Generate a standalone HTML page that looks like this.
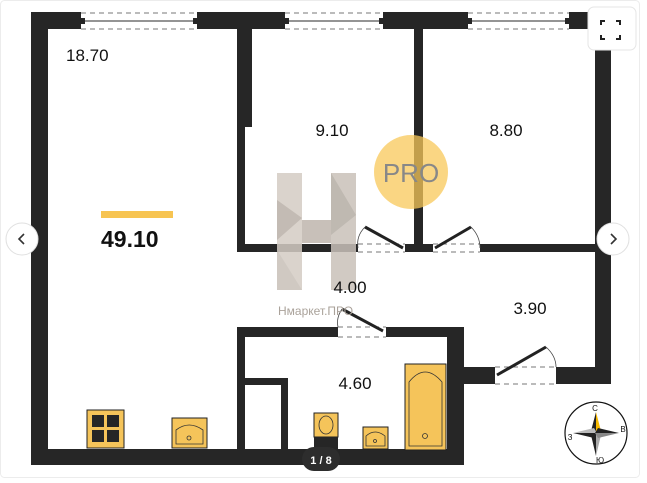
<!DOCTYPE html>
<html><head><meta charset="utf-8"><style>
html,body{margin:0;padding:0;background:#fff;}
svg{display:block;}
text{font-family:"Liberation Sans","DejaVu Sans",sans-serif;}
</style></head><body>
<svg width="647" height="483" viewBox="0 0 647 483" xmlns="http://www.w3.org/2000/svg">
<rect x="0.5" y="0.5" width="639" height="477" rx="4" fill="#fff" stroke="#ececec"/>
<g fill="#262626">
<!-- top wall segments -->
<rect x="31" y="12" width="50" height="17"/>
<rect x="197" y="12" width="88" height="17"/>
<rect x="383" y="12" width="85" height="17"/>
<rect x="569" y="12" width="42" height="17"/>
<!-- left wall -->
<rect x="31" y="12" width="17" height="453"/>
<!-- bottom wall -->
<rect x="31" y="449" width="433" height="16"/>
<!-- right wall -->
<rect x="595" y="12" width="16" height="372"/>
<!-- 18.70 / 9.10 wall -->
<rect x="237" y="12" width="15" height="115"/>
<rect x="237" y="12" width="8" height="240"/>
<!-- horizontal wall under bedrooms -->
<rect x="237" y="244" width="121" height="8"/>
<rect x="405" y="244" width="28" height="8"/>
<rect x="480" y="244" width="121" height="8"/>
<!-- 9.10/8.80 divider -->
<rect x="414" y="12" width="9" height="240"/>
<!-- bathroom -->
<rect x="237" y="327" width="101" height="10"/>
<rect x="386" y="327" width="69" height="10"/>
<rect x="237" y="327" width="8" height="130"/>
<rect x="447" y="327" width="17" height="138"/>
<rect x="447" y="367" width="48" height="17"/>
<rect x="556" y="367" width="55" height="17"/>
<!-- closet -->
<rect x="245" y="378" width="43" height="7"/>
<rect x="281" y="378" width="7" height="72"/>
</g>
<!-- windows -->
<g stroke="#777" stroke-width="1" stroke-dasharray="5,4" fill="none">
<line x1="81" y1="13" x2="197" y2="13"/><line x1="81" y1="29" x2="197" y2="29"/>
<line x1="285" y1="13" x2="383" y2="13"/><line x1="285" y1="29" x2="383" y2="29"/>
<line x1="468" y1="13" x2="569" y2="13"/><line x1="468" y1="29" x2="569" y2="29"/>
<line x1="358" y1="244" x2="405" y2="244"/><line x1="358" y1="252" x2="405" y2="252"/>
<line x1="433" y1="244" x2="480" y2="244"/><line x1="433" y1="252" x2="480" y2="252"/>
<line x1="338" y1="327" x2="386" y2="327"/><line x1="338" y1="337" x2="386" y2="337"/>
<line x1="495" y1="367" x2="556" y2="367"/><line x1="495" y1="384" x2="556" y2="384"/>
</g>
<g stroke="#555" stroke-width="1.2">
<line x1="83" y1="21" x2="195" y2="21"/><line x1="287" y1="21" x2="381" y2="21"/><line x1="470" y1="21" x2="567" y2="21"/>
</g>
<g fill="#262626">
<rect x="81" y="18" width="4" height="6"/><rect x="193" y="18" width="4" height="6"/>
<rect x="285" y="18" width="4" height="6"/><rect x="379" y="18" width="4" height="6"/>
<rect x="468" y="18" width="4" height="6"/><rect x="565" y="18" width="4" height="6"/>
</g>
<!-- doors -->
<g stroke="#222" stroke-width="3">
<line x1="403" y1="248" x2="365" y2="227"/>
<line x1="435" y1="248" x2="471" y2="227"/>
<line x1="383" y1="331" x2="342" y2="309"/>
<line x1="497" y1="375" x2="546" y2="347"/>
</g>
<g stroke="#444" stroke-width="0.8" fill="none">
<path d="M365 227 Q356 236 358 248"/>
<path d="M471 227 Q480 236 480 248"/>
<path d="M342 309 Q336 318 338 327"/>
<path d="M546 347 Q556 356 556 367"/>
</g>
<!-- fixtures -->
<g stroke="#222" stroke-width="1">
<rect x="87" y="410" width="37" height="38" fill="#f5c45a"/>
<rect x="172" y="418" width="35" height="30" fill="#f5c45a"/>
<rect x="314" y="413" width="24" height="24" fill="#f5c45a"/>
<rect x="363" y="427" width="25" height="22" fill="#f5c45a"/>
<rect x="405" y="364" width="41" height="86" fill="#f5c45a"/>
</g>
<g fill="#262626">
<rect x="92" y="415" width="12" height="12"/><rect x="107" y="415" width="12" height="12"/>
<rect x="92" y="430" width="12" height="12"/><rect x="107" y="430" width="12" height="12"/>
<rect x="314" y="437" width="24" height="13"/>
</g>
<g stroke="#333" stroke-width="0.8" fill="none">
<path d="M176 444 V430 Q189 420 203 430 V444 Z"/>
<ellipse cx="326" cy="425" rx="7" ry="9"/>
<path d="M366 446 V436 Q375 428 385 436 V446 Z"/>
<path d="M409 446 V382 Q425 362 442 382 V446 Z"/>
<circle cx="189" cy="438" r="2"/><circle cx="375" cy="441" r="1.5"/><circle cx="425" cy="436" r="2.5"/>
</g>
<!-- watermark -->
<g opacity="0.85">
<rect x="277" y="173" width="25" height="117" fill="#d4ccc4"/>
<rect x="331" y="173" width="25" height="117" fill="#c9c1b9"/>
<rect x="302" y="220" width="29" height="23" fill="#bfb6ad"/>
<polygon points="277,200 302,218 277,240" fill="#b9b0a7"/>
<polygon points="331,173 356,215 331,235" fill="#b5ada4"/>
<polygon points="277,250 302,290 277,290" fill="#c8c0b8"/>
</g>
<text x="278" y="315" font-size="12" fill="#aaa29a">Нмаркет.ПРО</text>
<circle cx="411" cy="172" r="37" fill="#f8c85a" opacity="0.75"/>
<text x="411" y="182" font-size="26" fill="#888" text-anchor="middle">PRO</text>
<!-- labels -->
<g font-size="17" fill="#111">
<text x="66" y="61">18.70</text>
<text x="332" y="136" text-anchor="middle">9.10</text>
<text x="506" y="136" text-anchor="middle">8.80</text>
<text x="350" y="293" text-anchor="middle">4.00</text>
<text x="530" y="314" text-anchor="middle">3.90</text>
<text x="355" y="389" text-anchor="middle">4.60</text>
</g>
<rect x="101" y="211" width="72" height="7" fill="#f7c451"/>
<text x="101" y="247" font-size="23" font-weight="bold" fill="#111">49.10</text>
<!-- compass -->
<circle cx="596" cy="433" r="31" fill="#fff" stroke="#111" stroke-width="1.2"/>
<polygon points="596,412 601,431 596,434" fill="#f5b800"/>
<polygon points="596,412 591,431 596,434" fill="#222"/>
<polygon points="596,456 601,435 596,432" fill="#aaa"/>
<polygon points="596,456 591,435 596,432" fill="#222"/>
<polygon points="573,433 594,428 597,433" fill="#bbb"/>
<polygon points="573,433 594,438 597,433" fill="#222"/>
<polygon points="619,433 598,428 595,433" fill="#222"/>
<polygon points="619,433 598,438 595,433" fill="#888"/>
<g font-size="8" fill="#111" text-anchor="middle">
<text x="595" y="411">С</text><text x="623" y="432">В</text><text x="570" y="440">З</text><text x="600" y="463">Ю</text>
</g>
<!-- UI -->
<rect x="302" y="447" width="38" height="24" rx="12" fill="#2d2d2d"/>
<text x="321" y="464" font-size="11" font-weight="bold" fill="#fff" text-anchor="middle">1 / 8</text>
<rect x="588" y="7" width="48" height="43" rx="6" fill="#fff" stroke="#e5e5e5"/>
<path d="M601 25v-4h4 M616 21h4v4 M620 35v4h-4 M605 39h-4v-4" stroke="#222" stroke-width="2" fill="none"/>
<circle cx="22" cy="239" r="16" fill="#fff" stroke="#e0e0e0"/>
<path d="M24 234l-5 5 5 5" stroke="#333" stroke-width="1.6" fill="none"/>
<circle cx="613" cy="239" r="16" fill="#fff" stroke="#e0e0e0"/>
<path d="M611 234l5 5-5 5" stroke="#333" stroke-width="1.6" fill="none"/>
</svg>
</body></html>
